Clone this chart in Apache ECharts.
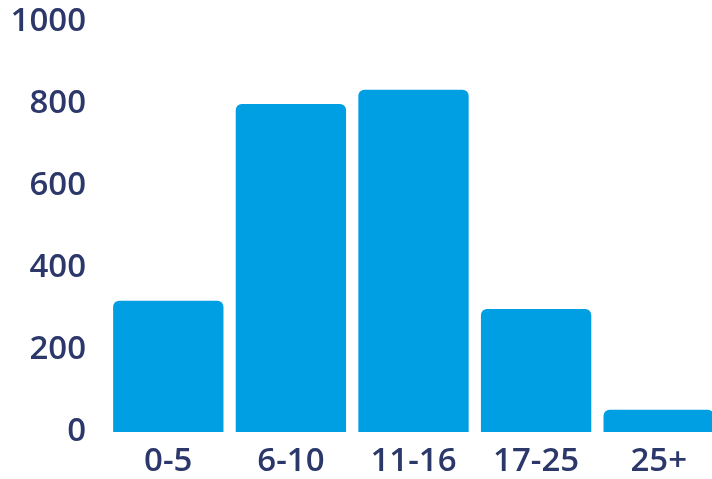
<!DOCTYPE html>
<html><head><meta charset="utf-8">
<script src="https://cdn.jsdelivr.net/npm/echarts@6/dist/echarts.min.js"></script>
<style>html,body{margin:0;padding:0;overflow:hidden;background:#fff;width:712px;height:479px}#c{width:720px;height:479px}</style>
</head><body><div id="c"></div>
<script>
const categories = ['0-5', '6-10', '11-16', '17-25', '25+'];
const values = [320, 800, 835, 300, 54];
const yTicks = [0, 200, 400, 600, 800, 1000];

const navy = '#2c386a';
const font = {color: navy, fontFamily: '"Open Sans"', fontWeight: 600, fontSize: 33};
const chart = echarts.init(document.getElementById('c'), null, {renderer: 'canvas'});
chart.setOption({
  animation: false,
  grid: {left: 107, right: 0, top: 22, bottom: 47, containLabel: false},
  xAxis: {
    type: 'category', data: categories,
    axisLine: {show: false}, axisTick: {show: false},
    axisLabel: Object.assign({margin: 13}, font)
  },
  yAxis: {
    type: 'value', min: yTicks[0], max: yTicks[yTicks.length - 1], interval: 200,
    splitLine: {show: false}, axisLine: {show: false}, axisTick: {show: false},
    axisLabel: Object.assign({margin: 21, padding: [4, 0, 0, 0], formatter: v => String(v)}, font)
  },
  series: [{
    type: 'bar', data: values, barCategoryGap: '10%',
    itemStyle: {color: '#009fe3', borderRadius: [6, 6, 0, 0]}
  }]
});
</script></body></html>
